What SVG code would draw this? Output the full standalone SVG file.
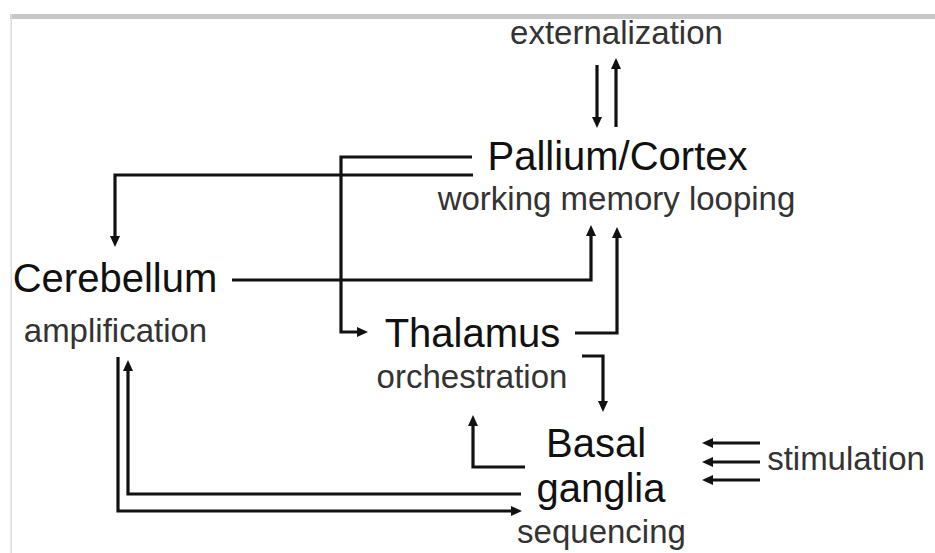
<svg xmlns="http://www.w3.org/2000/svg" width="935" height="553" viewBox="0 0 935 553">
<style>
.t{font-family:"Liberation Sans",Arial,sans-serif;font-size:40px;fill:#111;text-anchor:middle}
.s{font-family:"Liberation Sans",Arial,sans-serif;font-size:33px;fill:#333;text-anchor:middle}
.c{fill:none;stroke:#111;stroke-width:3.2;marker-end:url(#ah)}
</style>
<defs>
<marker id="ah" markerUnits="userSpaceOnUse" markerWidth="12" markerHeight="11" refX="3" refY="5" orient="auto">
<path d="M0,0 L11,5 L0,10 z" fill="#111"/>
</marker>
</defs>
<rect x="0" y="0" width="935" height="553" fill="#fff"/>
<rect x="10" y="14" width="925" height="5" fill="#c8c8c8"/>
<rect x="10.5" y="14" width="1.5" height="539" fill="#dcdcdc"/>
<g id="connectors">
<polyline class="c" points="616,127 616,66"/>
<polyline class="c" points="597,65 597,120"/>
<polyline class="c" points="472,157 341,157 341,332 360,332"/>
<polyline class="c" points="473,175 115,175 115,239"/>
<polyline class="c" points="232,280 591,280 591,233"/>
<polyline class="c" points="575,333 617,333 617,235"/>
<polyline class="c" points="582,356 603,356 603,404"/>
<polyline class="c" points="525,467 473,467 473,423"/>
<polyline class="c" points="521,494 128,494 128,368"/>
<polyline class="c" points="118,357 118,511 514,511"/>
<polyline class="c" points="760,443 710,443"/>
<polyline class="c" points="760,462 710,462"/>
<polyline class="c" points="760,480 710,480"/>
</g>
<g id="externalization"><text class="s" x="616.5" y="44">externalization</text></g>
<g id="pallium"><text class="t" x="617.5" y="170">Pallium/Cortex</text><text class="s" x="616.5" y="210">working memory looping</text></g>
<g id="cerebellum"><text class="t" x="115" y="292">Cerebellum</text><text class="s" x="115.5" y="342">amplification</text></g>
<g id="thalamus"><text class="t" x="472.5" y="347">Thalamus</text><text class="s" x="472" y="388">orchestration</text></g>
<g id="basal-ganglia"><text class="t" x="596" y="457">Basal</text><text class="t" x="601" y="502">ganglia</text><text class="s" x="601.5" y="543">sequencing</text></g>
<g id="stimulation"><text class="s" x="846" y="470">stimulation</text></g>
</svg>
